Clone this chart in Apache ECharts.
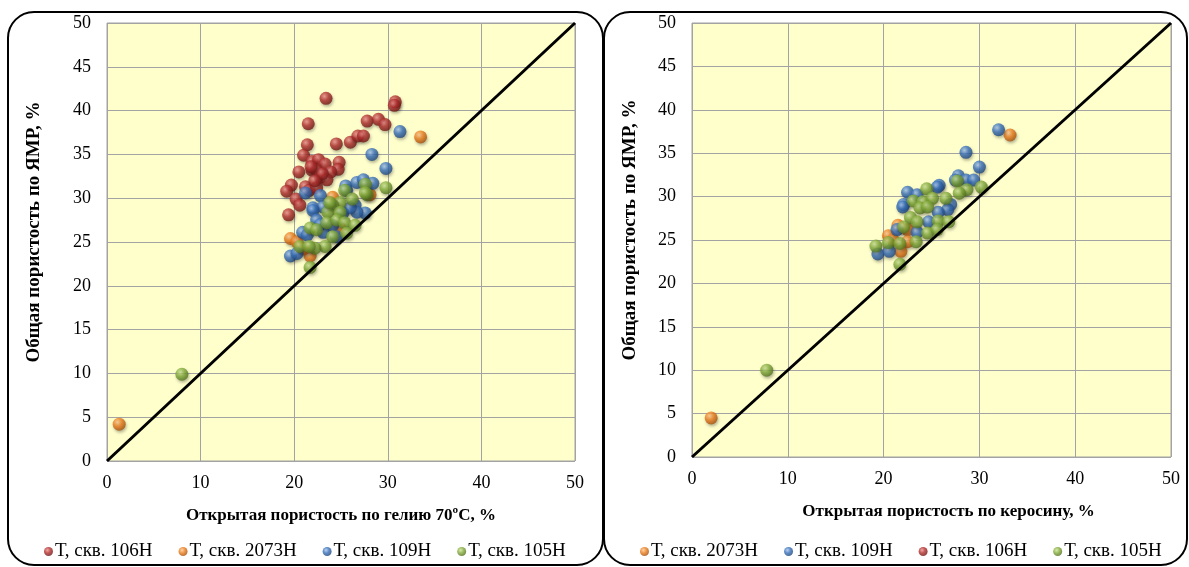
<!DOCTYPE html>
<html>
<head>
<meta charset="utf-8">
<script src="https://cdn.jsdelivr.net/npm/echarts@6/dist/echarts.min.js"></script>
<style>
  html, body { margin: 0; padding: 0; background: #ffffff; }
  #chart { width: 1189px; height: 567px; }
</style>
</head>
<body>
<div id="chart"></div>
<script>
// Porosity by NMR vs. open porosity (helium, left; kerosene, right)
const NAME_106 = 'Т, скв. 106Н';
const NAME_2073 = 'Т, скв. 2073Н';
const NAME_109 = 'Т, скв. 109Н';
const NAME_105 = 'Т, скв. 105Н';

const axisTicksX = [0, 10, 20, 30, 40, 50];
const axisTicksY = [0, 5, 10, 15, 20, 25, 30, 35, 40, 45, 50];
const diagonal = [[0, 0], [50, 50]];

// Helium porosity (x) vs NMR porosity (y)
const helium106 = [[23.4,41.4],[30.8,41.0],[30.7,40.6],[21.5,38.5],[27.8,38.8],[29.0,39.0],[29.7,38.4],
  [21.4,36.1],[24.5,36.2],[26.0,36.4],[26.8,37.1],[27.4,37.1],[21.0,34.9],[21.9,34.2],[22.6,34.4],
  [23.3,33.9],[24.8,34.1],[24.7,33.3],[21.9,33.2],[20.5,33.0],[22.4,33.2],[23.9,33.0],[22.8,32.4],
  [23.5,32.1],[19.7,31.5],[19.2,30.8],[21.2,31.3],[21.6,30.9],[22.4,31.2],[20.2,29.9],[20.6,29.2],
  [19.4,28.1],[23.0,32.8],[22.2,32.0],[21.8,33.6]];
const helium2073 = [[1.3,4.2],[33.5,37.0],[24.1,30.1],[28.1,30.4],[19.6,25.4],[20.3,25.0],[21.7,23.4],
  [24.9,26.6],[21.0,24.2]];
const helium109 = [[31.3,37.6],[28.3,35.0],[29.8,33.4],[21.2,30.6],[22.8,30.3],[25.5,31.4],[26.7,31.8],
  [27.4,32.1],[28.4,31.7],[22.0,28.9],[23.1,29.0],[26.5,29.2],[27.6,28.3],[26.7,28.4],[22.0,28.6],
  [22.4,27.5],[25.2,28.3],[26.0,28.9],[20.9,26.1],[21.4,25.8],[23.1,26.1],[24.1,26.9],[19.6,23.4],
  [20.3,23.7],[25.6,30.9],[22.8,27.0],[24.5,25.6]];
const helium105 = [[27.6,31.6],[29.8,31.2],[27.8,30.4],[25.4,30.9],[26.2,29.9],[24.9,29.5],[24.1,29.2],
  [23.6,28.4],[24.9,28.4],[21.7,26.6],[22.4,26.4],[23.5,27.2],[24.6,27.5],[25.4,27.2],[26.5,26.9],
  [25.6,26.0],[24.1,25.6],[23.3,24.5],[22.2,24.3],[20.6,24.5],[21.6,24.5],[23.8,29.5],[21.7,22.1],
  [8.0,9.9],[27.6,30.6]];

// Kerosene porosity (x) vs NMR porosity (y)
const kerosene2073 = [[2.0,4.5],[33.2,37.1],[21.5,26.7],[22.5,26.2],[20.5,25.5],[22.5,24.8],[21.8,23.7],
  [21.0,25.0]];
const kerosene109 = [[32.0,37.7],[28.6,35.1],[30.0,33.4],[27.8,32.4],[27.5,31.9],[28.6,31.9],[29.4,31.9],
  [25.8,31.3],[25.6,31.1],[22.5,30.5],[23.5,30.2],[22.1,29.1],[22.0,28.8],[27.0,29.1],[26.7,28.5],
  [25.7,28.2],[24.7,27.1],[21.4,26.2],[23.5,25.9],[19.4,23.4],[20.6,23.7]];
const kerosene106 = [];
const kerosene105 = [[7.8,10.0],[27.7,31.8],[28.7,30.8],[30.2,31.1],[27.9,30.4],[24.5,30.9],[23.1,29.5],
  [24.1,29.4],[25.1,29.8],[26.5,29.8],[23.8,28.7],[24.6,28.8],[22.8,27.6],[23.5,27.1],[25.7,27.2],
  [26.8,27.1],[22.1,26.5],[24.6,25.8],[25.6,26.2],[23.4,24.8],[19.2,24.3],[20.5,24.7],[21.7,24.6],
  [21.7,22.2]];

const FONT = '"Liberation Serif", "DejaVu Serif", serif';

function sphere(light, base, dark) {
  return {
    type: 'radial', x: 0.38, y: 0.35, r: 0.7,
    colorStops: [
      { offset: 0, color: light },
      { offset: 0.45, color: base },
      { offset: 1, color: dark }
    ]
  };
}
const C106 = sphere('#EE9290', '#B3302E', '#6A1311');
const C2073 = sphere('#FDCB95', '#EE7F1E', '#A04C08');
const C109 = sphere('#A8C8EE', '#3A72BC', '#1B4278');
const C105 = sphere('#CFE59A', '#86AE3C', '#4D6D1B');

function scatter(name, data, color, idx) {
  return {
    name: name, type: 'scatter', data: data,
    xAxisIndex: idx, yAxisIndex: idx,
    symbolSize: 13,
    itemStyle: {
      color: color,
      shadowBlur: 3, shadowColor: 'rgba(0,0,0,0.35)', shadowOffsetX: 1, shadowOffsetY: 2
    },
    emphasis: { disabled: true }
  };
}
function diag(idx) {
  return {
    type: 'line', data: diagonal, xAxisIndex: idx, yAxisIndex: idx,
    showSymbol: false, silent: true, z: 5,
    lineStyle: { color: '#000', width: 3 }
  };
}
function xAxis(idx, name, pad) {
  return {
    type: 'value', gridIndex: idx, min: 0, max: 50, interval: 10,
    name: name, nameLocation: 'middle', nameGap: 46,
    nameTextStyle: { fontFamily: FONT, fontSize: 17, fontWeight: 'bold', color: '#000', padding: pad },
    axisLine: { show: false }, axisTick: { show: false },
    axisLabel: { fontFamily: FONT, fontSize: 18, color: '#000', margin: 13 },
    splitLine: { show: true, lineStyle: { color: '#A3A3A3', width: 1 } }
  };
}
function yAxis(idx, gap) {
  return {
    type: 'value', gridIndex: idx, min: 0, max: 50, interval: 5,
    name: 'Общая пористость по ЯМР, %', nameLocation: 'middle', nameGap: gap, nameRotate: 90,
    nameTextStyle: { fontFamily: FONT, fontSize: 19, fontWeight: 'bold', color: '#000', padding: [0, 0, 0, 20] },
    axisLine: { show: false }, axisTick: { show: false },
    axisLabel: { fontFamily: FONT, fontSize: 18, color: '#000', margin: 16 },
    splitLine: { show: true, lineStyle: { color: '#A3A3A3', width: 1 } }
  };
}
function legend(left, names) {
  return {
    left: left, top: 537, data: names, icon: 'circle',
    itemWidth: 9, itemHeight: 9, itemGap: 26, selectedMode: false,
    textStyle: { fontFamily: FONT, fontSize: 19, color: '#000', padding: [0, 0, 0, -3] }
  };
}

const chart = echarts.init(document.getElementById('chart'), null, { renderer: 'canvas' });
chart.setOption({
  backgroundColor: '#ffffff',
  animation: false,
  graphic: [
    { type: 'rect', shape: { x: 8, y: 12, width: 595, height: 553, r: 26 },
      style: { fill: 'none', stroke: '#000', lineWidth: 2 }, z: -1 },
    { type: 'rect', shape: { x: 604, y: 12, width: 583, height: 553, r: 26 },
      style: { fill: 'none', stroke: '#000', lineWidth: 2 }, z: -1 }
  ],
  grid: [
    { left: 107, top: 23, width: 468, height: 438, show: true,
      backgroundColor: '#FFFFCC', borderColor: '#A3A3A3', borderWidth: 1 },
    { left: 692, top: 23, width: 479, height: 434, show: true,
      backgroundColor: '#FFFFCC', borderColor: '#A3A3A3', borderWidth: 1 }
  ],
  xAxis: [
    xAxis(0, 'Открытая пористость по гелию 70ºС, %', [0, 0, 0, 0]),
    xAxis(1, 'Открытая пористость по керосину, %', [0, 0, 0, 34])
  ],
  yAxis: [yAxis(0, 63), yAxis(1, 52)],
  legend: [
    legend(39, [NAME_106, NAME_2073, NAME_109, NAME_105]),
    legend(635, [NAME_2073, NAME_109, NAME_106, NAME_105])
  ],
  series: [
    scatter(NAME_106, helium106, C106, 0),
    scatter(NAME_2073, helium2073, C2073, 0),
    scatter(NAME_109, helium109, C109, 0),
    scatter(NAME_105, helium105, C105, 0),
    diag(0),
    scatter(NAME_2073, kerosene2073, C2073, 1),
    scatter(NAME_109, kerosene109, C109, 1),
    scatter(NAME_106, kerosene106, C106, 1),
    scatter(NAME_105, kerosene105, C105, 1),
    diag(1)
  ]
});
</script>
</body>
</html>
